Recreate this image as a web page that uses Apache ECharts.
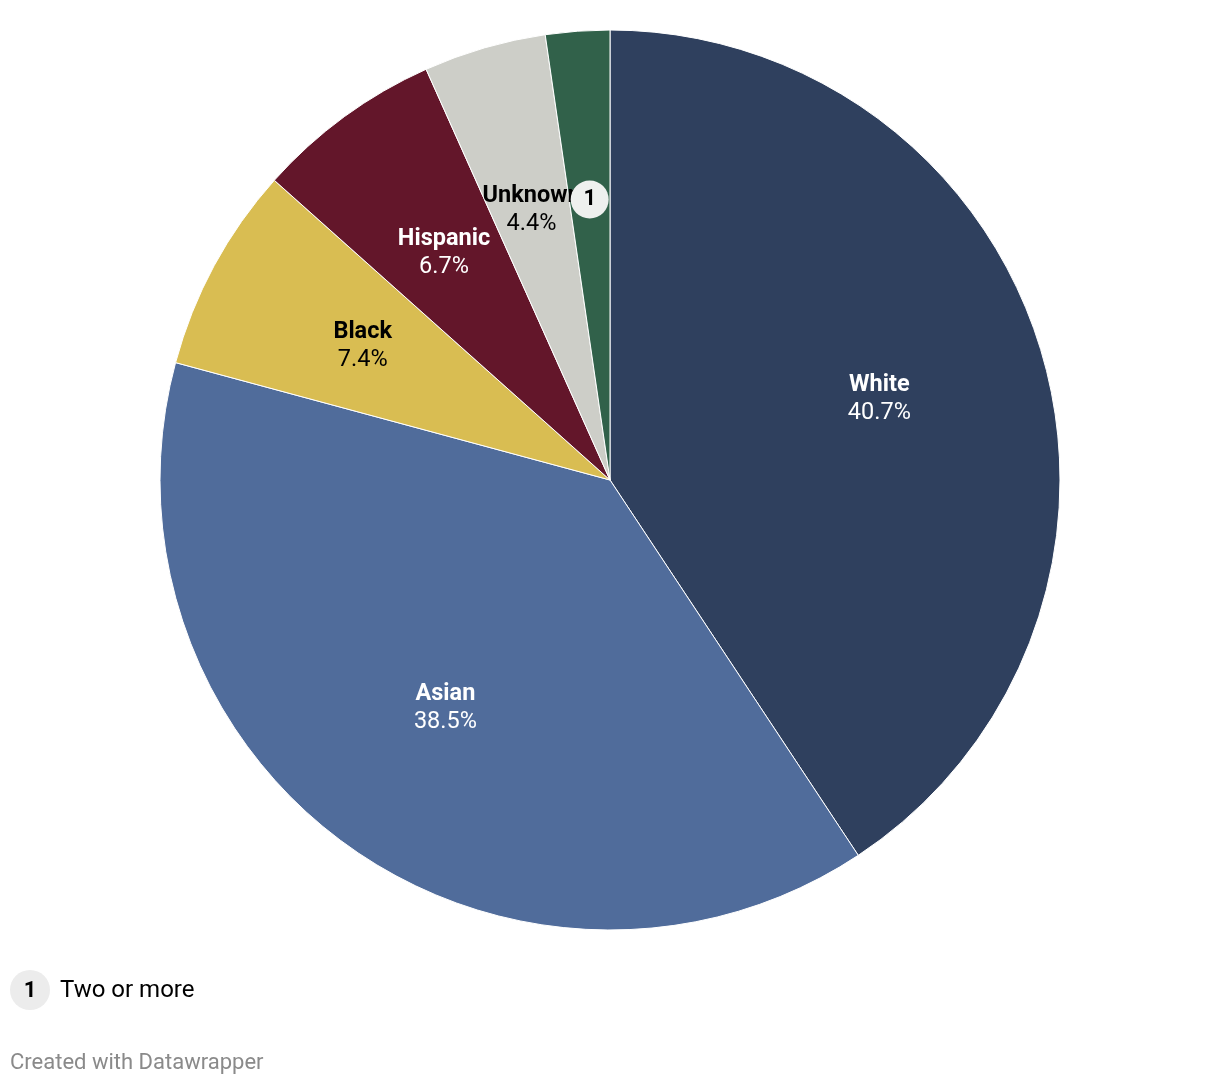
<!DOCTYPE html>
<html><head><meta charset="utf-8">
<script src="https://cdn.jsdelivr.net/npm/echarts@6/dist/echarts.min.js"></script>
<style>html,body{margin:0;padding:0;background:#fff}#c{width:1220px;height:1086px}</style>
</head><body><div id="c"></div>
<script>
const categories = ['White', 'Asian', 'Black', 'Hispanic', 'Unknown', 'Two or more'];
const values = [40.7, 38.5, 7.4, 6.7, 4.4, 2.3];
const colors = ['#2f405e', '#506c9b', '#d9bd52', '#63162a', '#cdcec8', '#31614a'];
const labelColors = ['#fff', '#fff', '#000', '#fff', '#000', '#000'];
const footnoteIndex = 5;
const footnoteMark = '1';

const font = 'Roboto, "Noto Sans", sans-serif';
const total = values.reduce((a, b) => a + b, 0);
const chart = echarts.init(document.getElementById('c'));
const data = categories.map((c, i) => ({
  name: c, value: values[i],
  itemStyle: {color: colors[i]}
}));
// mid angle of every slice (in % of the circle), from the data
const midAngles = values.map((v, i) => (values.slice(0, i).reduce((a, b) => a + b, 0) + v / 2) / total * 100);
const labelR = 0.625;
const labelPoints = categories.map((c, i) => i === footnoteIndex ? null : ({
  value: [labelR, midAngles[i]],
  label: {
    formatter: '{n|' + c + '}\n{v|' + values[i].toFixed(1) + '%}',
    rich: {
      n: {fontSize: 23.5, fontWeight: 'bold', color: labelColors[i], lineHeight: 28, fontFamily: font, align: 'center'},
      v: {fontSize: 23.5, color: labelColors[i], lineHeight: 28, fontFamily: font, align: 'center'}
    }
  }
})).filter(Boolean);

chart.setOption({
  animation: false,
  polar: {center: [610, 480], radius: 450},
  angleAxis: {min: 0, max: 100, startAngle: 90, clockwise: true, show: false},
  radiusAxis: {min: 0, max: 1, show: false},
  series: [{
    type: 'pie', center: [610, 480], radius: [0, 450], startAngle: 90, clockwise: true,
    label: {show: false}, labelLine: {show: false}, emphasis: {disabled: true},
    itemStyle: {borderColor: '#fff', borderWidth: 1},
    data: data, silent: true
  }, {
    type: 'scatter', coordinateSystem: 'polar', z: 5, silent: true,
    symbolSize: 1, itemStyle: {color: 'rgba(0,0,0,0)', opacity: 1},
    label: {show: true, position: 'inside', align: 'center', verticalAlign: 'middle', opacity: 1, offset: [0, 2]},
    labelLayout: {hideOverlap: false},
    data: labelPoints
  }, {
    type: 'scatter', coordinateSystem: 'polar', z: 10, silent: true,
    symbol: 'circle', symbolSize: 38,
    itemStyle: {color: '#eef0ee', opacity: 1},
    label: {show: true, position: 'inside', formatter: footnoteMark, fontSize: 22, fontWeight: 'bold', color: '#000', fontFamily: font},
    data: [[labelR, midAngles[footnoteIndex]]]
  }],
  graphic: [
    {type: 'circle', shape: {cx: 30, cy: 990, r: 20}, style: {fill: '#ececec'}},
    {type: 'text', x: 30, y: 991, style: {text: footnoteMark, fontSize: 22, fontWeight: 'bold', fill: '#000', fontFamily: font, align: 'center', verticalAlign: 'middle'}},
    {type: 'text', x: 60, y: 991, style: {text: categories[footnoteIndex], fontSize: 24, fill: '#000', fontFamily: font, verticalAlign: 'middle'}},
    {type: 'text', x: 10, y: 1063, style: {text: 'Created with Datawrapper', fontSize: 22, fill: '#8a8a8a', fontFamily: font, verticalAlign: 'middle'}}
  ]
});
</script></body></html>
